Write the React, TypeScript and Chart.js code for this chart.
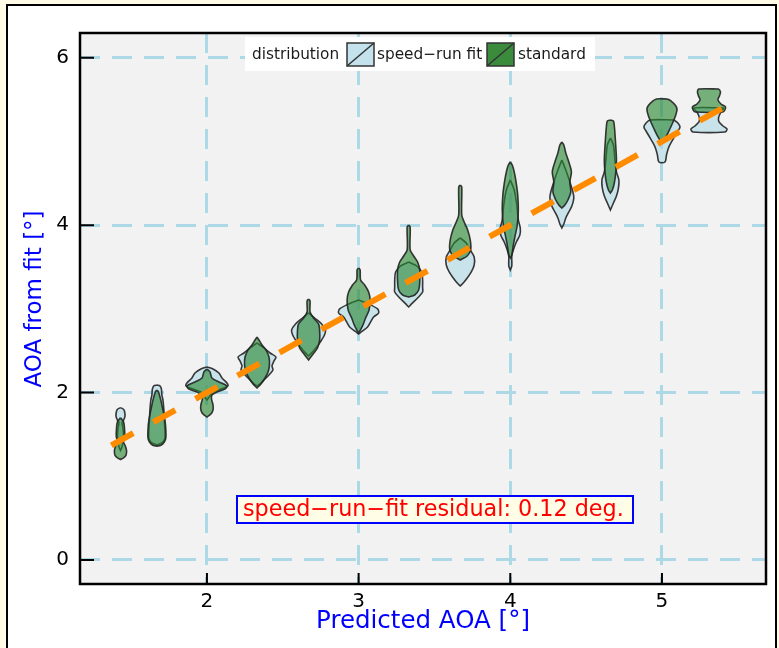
import React, { useEffect, useRef } from 'react';
import { Chart, registerables } from 'chart.js';

Chart.register(...registerables);
Chart.defaults.font.family = "'DejaVu Sans', sans-serif";

// ---- axes ----
const xTicks = [2, 3, 4, 5];
const yTicks = [0, 2, 4, 6];
const xRange = [1.163, 5.686];
const yRange = [-0.287, 6.296];
const xTitle = 'Predicted AOA [°]';
const yTitle = 'AOA from fit [°]';

// ---- violin positions (predicted AOA bins) ----
const positions = [1.43, 1.67, 2.0, 2.33, 2.67, 3.0, 3.33, 3.67, 4.0, 4.34, 4.66, 5.0, 5.31];

// speed-run fit distribution: [AOA from fit, half-width] from top to bottom
const fitProfiles: number[][][] = [
  [[1.82, 0], [1.80, 0.020], [1.78, 0.026], [1.72, 0.030], [1.67, 0.020], [1.64, 0.010], [1.58, 0.016], [1.48, 0.020], [1.41, 0.016], [1.35, 0.010], [1.31, 0]],
  [[2.09, 0], [2.08, 0.020], [2.04, 0.030], [1.97, 0.033], [1.91, 0.040], [1.79, 0.046], [1.67, 0.049], [1.55, 0.053], [1.46, 0.053], [1.41, 0.040], [1.37, 0]],
  [[2.306, 0], [2.282, 0.040], [2.234, 0.079], [2.174, 0.099], [2.115, 0.132], [2.079, 0.138], [2.043, 0.092], [2.007, 0.040], [1.959, 0.020], [1.912, 0]],
  [[2.593, 0], [2.533, 0.046], [2.473, 0.086], [2.425, 0.125], [2.378, 0.112], [2.318, 0.099], [2.270, 0.105], [2.210, 0.079], [2.151, 0.046], [2.103, 0.020], [2.079, 0]],
  [[2.951, 0], [2.891, 0.040], [2.820, 0.086], [2.748, 0.112], [2.688, 0.105], [2.628, 0.086], [2.557, 0.059], [2.485, 0.026], [2.437, 0]],
  [[3.106, 0], [3.059, 0.066], [2.999, 0.125], [2.951, 0.132], [2.903, 0.099], [2.844, 0.079], [2.784, 0.059], [2.736, 0.026], [2.700, 0]],
  [[3.560, 0], [3.513, 0.053], [3.441, 0.086], [3.345, 0.092], [3.262, 0.092], [3.202, 0.092], [3.130, 0.059], [3.071, 0.026], [3.023, 0]],
  [[3.847, 0], [3.787, 0.040], [3.704, 0.066], [3.620, 0.092], [3.524, 0.092], [3.441, 0.073], [3.369, 0.046], [3.309, 0.020], [3.274, 0]],
  [[4.540, 0], [4.421, 0.026], [4.241, 0.043], [4.062, 0.053], [3.967, 0.066], [3.883, 0.063], [3.799, 0.040], [3.704, 0.020], [3.632, 0.010], [3.513, 0.010], [3.465, 0]],
  [[4.779, 0], [4.659, 0.026], [4.516, 0.053], [4.397, 0.073], [4.325, 0.079], [4.229, 0.066], [4.158, 0.046], [4.086, 0.026], [4.014, 0.013], [3.967, 0]],
  [[5.042, 0], [4.958, 0.020], [4.779, 0.030], [4.636, 0.040], [4.540, 0.056], [4.444, 0.053], [4.349, 0.040], [4.265, 0.020], [4.182, 0]],
  [[5.257, 0.079], [5.221, 0.105], [5.173, 0.119], [5.125, 0.105], [5.054, 0.082], [4.982, 0.059], [4.922, 0.043], [4.839, 0.030], [4.755, 0.020]],
  [[5.400, 0.099], [5.341, 0.076], [5.281, 0.063], [5.233, 0.066], [5.185, 0.092], [5.149, 0.119], [5.114, 0.105]],
];

// standard distribution: [AOA from fit, half-width] from top to bottom
const stdProfiles: number[][][] = [
  [[1.70, 0], [1.65, 0.020], [1.58, 0.026], [1.48, 0.028], [1.41, 0.020], [1.37, 0.030], [1.31, 0.040], [1.25, 0.036], [1.22, 0.020], [1.20, 0]],
  [[2.03, 0], [2.01, 0.010], [1.91, 0.026], [1.79, 0.040], [1.67, 0.053], [1.55, 0.059], [1.46, 0.059], [1.41, 0.049], [1.37, 0.026], [1.36, 0]],
  [[2.282, 0], [2.246, 0.020], [2.174, 0.033], [2.127, 0.079], [2.079, 0.132], [2.043, 0.119], [2.007, 0.066], [1.971, 0.033], [1.924, 0.030], [1.852, 0.040], [1.792, 0.040], [1.744, 0.026], [1.708, 0]],
  [[2.664, 0], [2.628, 0.013], [2.569, 0.033], [2.509, 0.059], [2.425, 0.079], [2.330, 0.082], [2.246, 0.073], [2.174, 0.053], [2.103, 0.026], [2.055, 0]],
  [[3.118, 0], [3.094, 0.010], [2.963, 0.010], [2.891, 0.033], [2.820, 0.066], [2.748, 0.073], [2.628, 0.073], [2.533, 0.059], [2.461, 0.030], [2.389, 0]],
  [[3.489, 0], [3.465, 0.010], [3.345, 0.013], [3.286, 0.040], [3.202, 0.066], [3.106, 0.076], [2.987, 0.069], [2.891, 0.046], [2.796, 0.026], [2.712, 0]],
  [[4.002, 0], [3.978, 0.010], [3.704, 0.010], [3.632, 0.033], [3.560, 0.059], [3.465, 0.073], [3.321, 0.073], [3.226, 0.066], [3.166, 0.040], [3.142, 0]],
  [[4.480, 0], [4.456, 0.010], [4.122, 0.010], [4.038, 0.026], [3.943, 0.049], [3.823, 0.066], [3.704, 0.069], [3.632, 0.046], [3.584, 0]],
  [[4.755, 0], [4.719, 0.013], [4.659, 0.023], [4.540, 0.036], [4.361, 0.049], [4.182, 0.053], [4.002, 0.046], [3.883, 0.033], [3.763, 0.020], [3.644, 0.010], [3.608, 0]],
  [[4.994, 0], [4.958, 0.013], [4.863, 0.026], [4.755, 0.046], [4.636, 0.063], [4.516, 0.053], [4.397, 0.059], [4.301, 0.040], [4.241, 0.020], [4.205, 0]],
  [[5.257, 0], [5.245, 0.020], [5.185, 0.026], [5.018, 0.033], [4.779, 0.040], [4.636, 0.036], [4.504, 0.026], [4.421, 0.013], [4.385, 0]],
  [[5.508, 0.036], [5.484, 0.059], [5.424, 0.092], [5.376, 0.099], [5.305, 0.089], [5.233, 0.073], [5.137, 0.049], [5.054, 0.026], [4.982, 0]],
  [[5.627, 0.066], [5.591, 0.076], [5.544, 0.069], [5.496, 0.059], [5.448, 0.079], [5.412, 0.109], [5.376, 0.105], [5.352, 0.092]],
];

// 1:1 fit line
const fitLineX = [1.37, 5.47];
const fitLineY = [1.37, 5.47];

const seriesNames = ['speed\u2212run fit', 'standard'];
const legendTitle = 'distribution';
const annotationText = 'speed\u2212run\u2212fit residual: 0.12 deg.';

// ---- styles ----
const FIT_FILL = 'rgba(173,216,230,0.6)';
const STD_FILL = 'rgba(40,135,50,0.62)';
const OUTLINE = 'rgba(35,35,35,0.9)';
const GRID = '#add8e6';

function outline(cx: number, prof: number[][]) {
  const right = prof.map(([y, w]) => ({ x: cx + w, y }));
  const left = prof.slice().reverse().map(([y, w]) => ({ x: cx - w, y }));
  const pts = [...right, ...left];
  pts.push({ ...pts[0] });
  return pts;
}

function buildDatasets() {
  const ds: any[] = [];
  positions.forEach((cx, i) => {
    ds.push({
      label: seriesNames[0],
      data: outline(cx, fitProfiles[i]),
      borderColor: OUTLINE,
      borderWidth: 1.6,
      backgroundColor: FIT_FILL,
      fill: 'shape',
      tension: 0.3,
      pointRadius: 0,
      order: 2,
    });
    ds.push({
      label: seriesNames[1],
      data: outline(cx, stdProfiles[i]),
      borderColor: OUTLINE,
      borderWidth: 1.6,
      backgroundColor: STD_FILL,
      fill: 'shape',
      tension: 0.3,
      pointRadius: 0,
      order: 1,
    });
  });
  ds.push({
    label: 'fit',
    data: fitLineX.map((x, i) => ({ x, y: fitLineY[i] })),
    borderColor: '#ff8c00',
    borderWidth: 6,
    borderDash: [25, 23],
    borderCapStyle: 'butt',
    fill: false,
    pointRadius: 0,
    tension: 0,
    order: 0,
  });
  return ds;
}

const decorPlugin = {
  id: 'decor',
  beforeDraw(chart: any) {
    const { ctx, chartArea: a, width, height } = chart;
    ctx.save();
    ctx.fillStyle = '#fffbe6';
    ctx.fillRect(0, 0, width, height);
    ctx.fillStyle = '#ffffff';
    ctx.fillRect(7, 5, 769, 700);
    ctx.strokeStyle = '#000';
    ctx.lineWidth = 2;
    ctx.strokeRect(7, 5, 769, 700);
    ctx.fillStyle = '#f2f2f2';
    ctx.fillRect(a.left, a.top, a.right - a.left, a.bottom - a.top);
    ctx.restore();
  },
  afterDraw(chart: any) {
    const { ctx, chartArea: a, scales } = chart;
    ctx.save();
    // inside tick marks
    ctx.strokeStyle = '#000';
    ctx.lineWidth = 2;
    ctx.beginPath();
    yTicks.forEach((v) => {
      const p = scales.y.getPixelForValue(v);
      ctx.moveTo(a.left, p);
      ctx.lineTo(a.left + 14, p);
    });
    xTicks.forEach((v) => {
      const p = scales.x.getPixelForValue(v);
      ctx.moveTo(p, a.bottom);
      ctx.lineTo(p, a.bottom - 11);
    });
    ctx.stroke();
    // frame
    ctx.lineWidth = 2.5;
    ctx.strokeRect(a.left, a.top, a.right - a.left, a.bottom - a.top);

    // y axis title
    ctx.save();
    ctx.translate(35, 299);
    ctx.rotate(-Math.PI / 2);
    ctx.fillStyle = '#0000ff';
    ctx.font = "23px 'DejaVu Sans'";
    ctx.textAlign = 'center';
    ctx.textBaseline = 'middle';
    ctx.fillText(yTitle, 0, 0);
    ctx.restore();

    // legend
    ctx.fillStyle = '#ffffff';
    ctx.fillRect(245, 37, 350, 34);
    ctx.font = "15.3px 'DejaVu Sans'";
    ctx.textBaseline = 'middle';
    ctx.textAlign = 'left';
    ctx.fillStyle = '#1a1a1a';
    ctx.fillText(legendTitle, 252, 55);
    const sw = (x: number, fill: string) => {
      ctx.fillStyle = fill;
      ctx.fillRect(x, 43, 27, 23);
      ctx.strokeStyle = '#333';
      ctx.lineWidth = 1.5;
      ctx.strokeRect(x, 43, 27, 23);
      ctx.beginPath();
      ctx.moveTo(x, 66);
      ctx.lineTo(x + 27, 43);
      ctx.stroke();
    };
    sw(347, '#c3e2ec');
    ctx.fillStyle = '#1a1a1a';
    ctx.fillText(seriesNames[0], 377, 55);
    sw(487, '#3b8b3d');
    ctx.fillStyle = '#1a1a1a';
    ctx.fillText(seriesNames[1], 518, 55);

    // annotation
    ctx.fillStyle = '#fffde6';
    ctx.fillRect(237, 496, 396, 27);
    ctx.strokeStyle = '#0000ff';
    ctx.lineWidth = 2;
    ctx.strokeRect(237, 496, 396, 27);
    ctx.fillStyle = '#ff0000';
    ctx.font = "22.3px 'DejaVu Sans'";
    ctx.fillText(annotationText, 243, 510);
    ctx.restore();
  },
};

export default function App() {
  const ref = useRef<HTMLCanvasElement>(null);
  useEffect(() => {
    document.body.style.margin = '0';
    const chart = new Chart(ref.current as HTMLCanvasElement, {
      type: 'line',
      data: { datasets: buildDatasets() },
      options: {
        animation: false,
        responsive: false,
        events: [],
        layout: { padding: { top: 33, right: 13, left: 0, bottom: 0 } },
        plugins: { legend: { display: false }, tooltip: { enabled: false } },
        scales: {
          x: {
            type: 'linear',
            min: xRange[0],
            max: xRange[1],
            afterBuildTicks: (s: any) => { s.ticks = xTicks.map((v) => ({ value: v })); },
            afterFit: (s: any) => { s.height = 64; },
            grid: { color: GRID, lineWidth: 3, drawTicks: false },
            border: { display: false, dash: [20, 12] },
            ticks: { padding: 6, color: '#000', font: { size: 20 }, callback: (v: any) => String(v) },
            title: { display: true, text: xTitle, color: '#0000ff', font: { size: 24.5 }, padding: { top: 0, bottom: 12 } },
          },
          y: {
            type: 'linear',
            min: yRange[0],
            max: yRange[1],
            afterBuildTicks: (s: any) => { s.ticks = yTicks.map((v) => ({ value: v })); },
            afterFit: (s: any) => { s.width = 80; },
            grid: { color: GRID, lineWidth: 3, drawTicks: false },
            border: { display: false, dash: [20, 12] },
            ticks: { padding: 11, color: '#000', font: { size: 20 }, callback: (v: any) => String(v) },
            title: { display: false },
          },
        },
      } as any,
      plugins: [decorPlugin],
    });
    return () => chart.destroy();
  }, []);
  return (
    <div style={{ position: 'fixed', left: 0, top: 0, width: 779, height: 648 }}>
      <canvas ref={ref} width={779} height={648} style={{ display: 'block', width: 779, height: 648 }} />
    </div>
  );
}
